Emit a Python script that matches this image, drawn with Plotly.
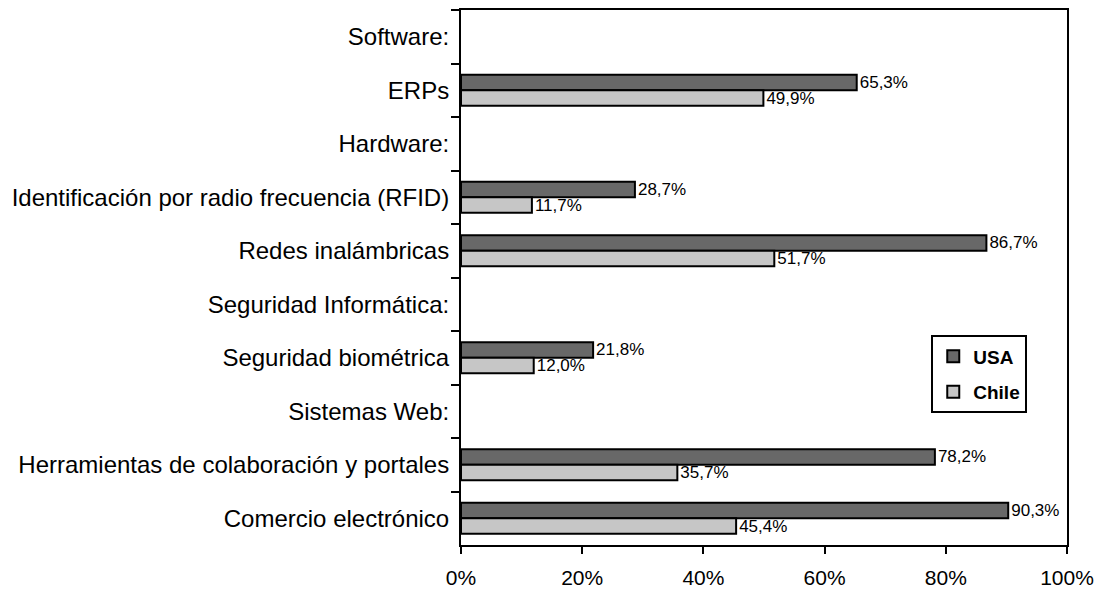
import plotly.graph_objects as go

categories = [
    "Software:",
    "ERPs",
    "Hardware:",
    "Identificación por radio frecuencia (RFID)",
    "Redes inalámbricas",
    "Seguridad Informática:",
    "Seguridad biométrica",
    "Sistemas Web:",
    "Herramientas de colaboración y portales",
    "Comercio electrónico",
]
usa = [None, 65.3, None, 28.7, 86.7, None, 21.8, None, 78.2, 90.3]
chile = [None, 49.9, None, 11.7, 51.7, None, 12.0, None, 35.7, 45.4]
x_ticks = [0, 20, 40, 60, 80, 100]
x_tick_labels = ["0%", "20%", "40%", "60%", "80%", "100%"]


def fmt(v):
    return "" if v is None else f"{v:.1f}%".replace(".", ",")


FONT = "Liberation Sans, Arial, sans-serif"

fig = go.Figure()
for name, vals, color in [("USA", usa, "#686868"), ("Chile", chile, "#c6c6c6")]:
    fig.add_trace(go.Bar(
        name=name,
        legendgroup=name,
        y=categories,
        x=vals,
        orientation="h",
        marker=dict(color=color, line=dict(color="black", width=2)),
        text=[fmt(v) for v in vals],
        textposition="outside",
        constraintext="none",
        textfont=dict(family=FONT, size=17, color="black"),
        cliponaxis=False,
    ))

fig.update_layout(
    width=1095,
    height=598,
    barmode="group",
    bargap=0.42,
    bargroupgap=0,
    plot_bgcolor="white",
    paper_bgcolor="white",
    margin=dict(l=461, r=28, t=10, b=53),
    font=dict(family=FONT, color="black"),
    legend=dict(
        x=0.776, y=0.392, xanchor="left", yanchor="top",
        bordercolor="black", borderwidth=2,
        bgcolor="white",
        font=dict(family=FONT, size=19, color="black", weight="bold"),
        traceorder="grouped",
        tracegroupgap=8,
        itemwidth=30,
    ),
    xaxis=dict(
        range=[0, 100],
        tickvals=x_ticks,
        ticktext=x_tick_labels,
        ticks="outside", ticklen=7, tickwidth=2, tickcolor="black",
        showline=True, linecolor="black", linewidth=2, mirror=True,
        showgrid=False, zeroline=False,
        tickfont=dict(family=FONT, size=21, color="black"),
        ticklabelstandoff=6,
        ticklabeloverflow="allow",
        automargin=False,
    ),
    yaxis=dict(
        categoryorder="array",
        categoryarray=categories,
        autorange="reversed",
        ticks="outside", ticklen=8, tickwidth=2, tickcolor="black",
        tickson="boundaries",
        showline=True, linecolor="black", linewidth=2, mirror=True,
        showgrid=False,
        tickfont=dict(family=FONT, size=24, color="black"),
        ticklabelstandoff=5,
        automargin=False,
    ),
)

# remove the default 8px page margin so the figure fills the window exactly
fig.write_html(
    "out.html",
    config={"displayModeBar": False},
    post_script="document.body.style.margin='0';document.body.style.overflow='hidden';",
)
